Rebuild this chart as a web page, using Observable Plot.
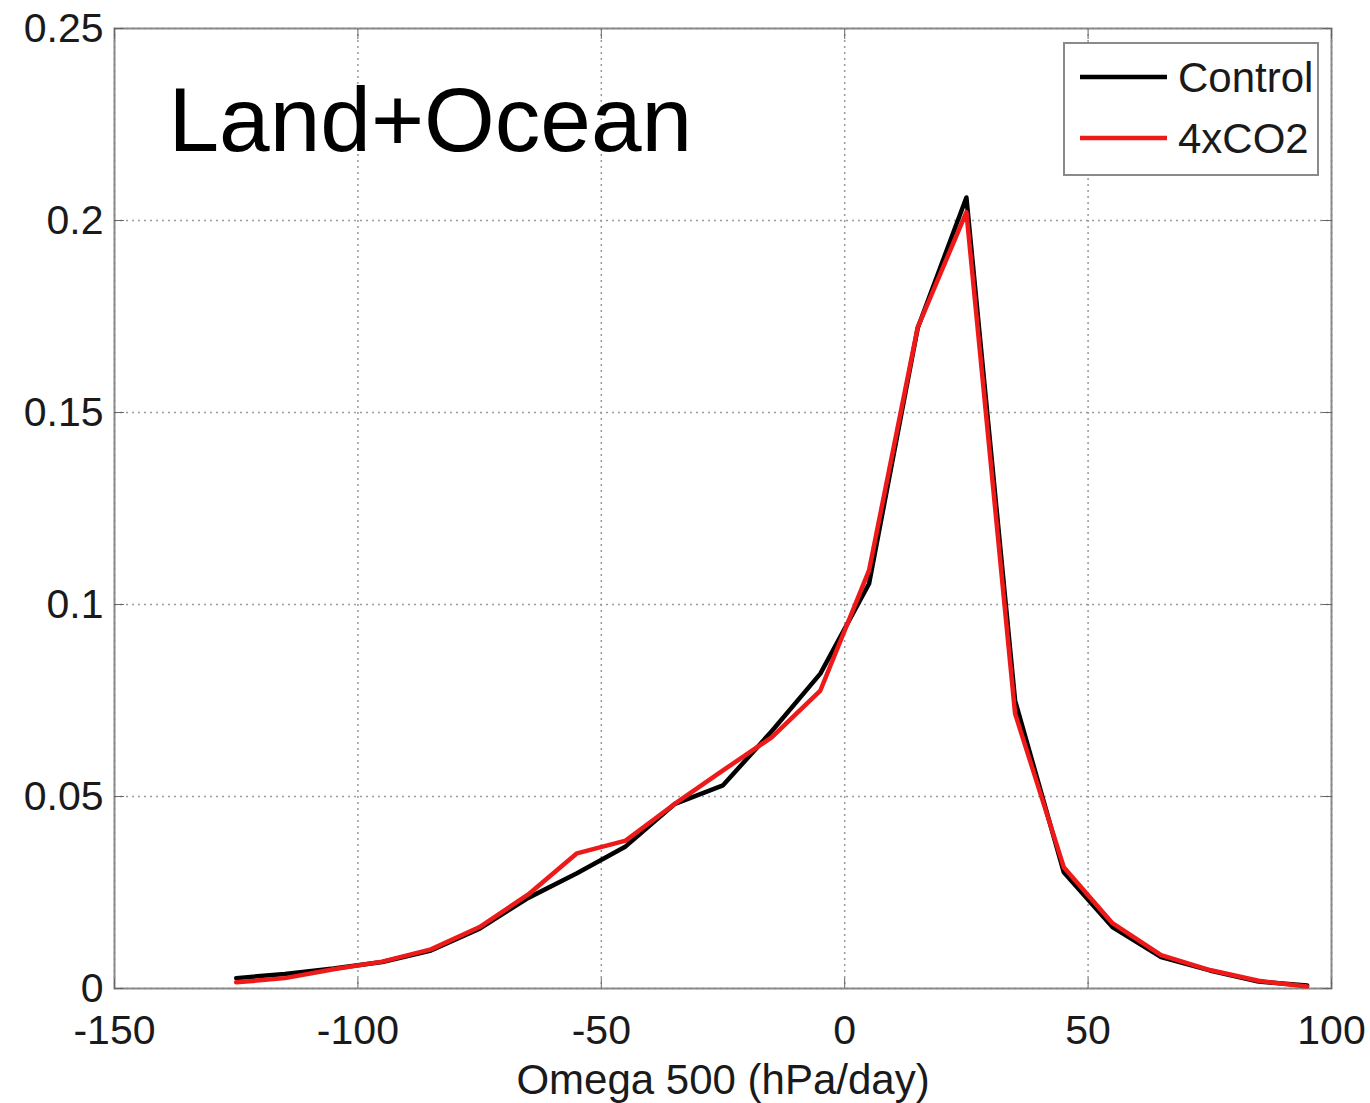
<!DOCTYPE html>
<html>
<head>
<meta charset="utf-8">
<script src="https://cdn.jsdelivr.net/npm/d3@7"></script>
<script src="https://cdn.jsdelivr.net/npm/@observablehq/plot@0.6"></script>
<style>
  html, body { margin: 0; padding: 0; background: #fff; }
  #wrap { position: relative; width: 1370px; height: 1103px; }
  #legend { position: absolute; left: 1063px; top: 42px; }
</style>
</head>
<body>
<div id="wrap">
  <div id="chart"></div>
  <div id="legend"></div>
</div>
<script>
// Omega 500 bin centres (hPa/day) and the PDF of each run
const omega = [-125, -115, -105, -95, -85, -75, -65, -55, -45, -35, -25, -15, -5, 5, 15, 25, 35, 45, 55, 65, 75, 85, 95];
const control = [0.0027, 0.0038, 0.0052, 0.0069, 0.0099, 0.0156, 0.0236, 0.0300, 0.0370, 0.0480, 0.0529, 0.0670, 0.0820, 0.1054, 0.1720, 0.2060, 0.0750, 0.0303, 0.0160, 0.0082, 0.0047, 0.0018, 0.0008];
const co2x4 = [0.0016, 0.0027, 0.0050, 0.0070, 0.0102, 0.0160, 0.0245, 0.0352, 0.0385, 0.0480, 0.0568, 0.0654, 0.0776, 0.1089, 0.1722, 0.2022, 0.0716, 0.0316, 0.0170, 0.0087, 0.0048, 0.0020, 0.0005];

const seriesNames = ["Control", "4xCO2"];
const seriesColors = ["#000000", "#ee1a1a"];

const xTicks = [-150, -100, -50, 0, 50, 100];
const yTicks = [0, 0.05, 0.1, 0.15, 0.2, 0.25];

const panelTitle = "Land+Ocean";
const xLabel = "Omega 500 (hPa/day)";

const rows = [
  ...omega.map((w, i) => ({omega: w, pdf: control[i], run: seriesNames[0]})),
  ...omega.map((w, i) => ({omega: w, pdf: co2x4[i], run: seriesNames[1]}))
];

const fmt = d => String(d);
const gridStyle = {stroke: "#9a9a9a", strokeOpacity: 1, strokeWidth: 1.5, strokeDasharray: "2,4"};

const chart = Plot.plot({
  width: 1370,
  height: 1103,
  marginLeft: 114,
  marginRight: 39,
  marginTop: 28,
  marginBottom: 115,
  style: {fontFamily: "'Liberation Sans', Arial, sans-serif", fontSize: "41px", color: "#1a1a1a", background: "#fff"},
  x: {domain: [-150, 100]},
  y: {domain: [0, 0.25]},
  color: {domain: seriesNames, range: seriesColors},
  marks: [
    Plot.gridX(xTicks, gridStyle),
    Plot.gridY(yTicks, gridStyle),
    Plot.frame({stroke: "#8a8a8a", strokeWidth: 2}),
    Plot.axisX(xTicks, {anchor: "bottom", tickSize: -10, tickPadding: 36, tickFormat: fmt, label: null, stroke: "#666"}),
    Plot.axisX(xTicks, {anchor: "top", tickSize: -10, tickFormat: () => "", label: null, stroke: "#666"}),
    Plot.axisY(yTicks, {anchor: "left", tickSize: -10, tickPadding: 21, tickFormat: fmt, label: null, stroke: "#666"}),
    Plot.axisY(yTicks, {anchor: "right", tickSize: -10, tickFormat: () => "", label: null, stroke: "#666"}),
    Plot.line(rows, {x: "omega", y: "pdf", z: "run", stroke: "run", strokeWidth: 4.5, strokeLinejoin: "round", strokeLinecap: "round"}),
    Plot.text([panelTitle], {frameAnchor: "top-left", dx: 54, dy: 58, text: d => d, fontSize: 91, textAnchor: "start", lineAnchor: "top", fill: "#000"}),
    Plot.text([xLabel], {frameAnchor: "bottom", dy: 92, text: d => d, fontSize: 42, lineAnchor: "middle", fill: "#1a1a1a"})
  ]
});
document.getElementById("chart").append(chart);

// Legend box in the upper right corner of the axes
const lw = 256, lh = 134;
const legend = d3.create("svg").attr("width", lw).attr("height", lh)
  .style("font-family", "'Liberation Sans', Arial, sans-serif");
legend.append("rect").attr("x", 1).attr("y", 1).attr("width", lw - 2).attr("height", lh - 2)
  .attr("fill", "#fff").attr("stroke", "#8a8a8a").attr("stroke-width", 2);
const rowsY = [35, 96];
seriesNames.forEach((name, i) => {
  legend.append("line").attr("x1", 17).attr("x2", 104).attr("y1", rowsY[i]).attr("y2", rowsY[i])
    .attr("stroke", seriesColors[i]).attr("stroke-width", 4.5);
  legend.append("text").attr("x", 115).attr("y", rowsY[i]).attr("dy", "0.35em")
    .attr("font-size", 42).attr("fill", "#1a1a1a").text(name);
});
document.getElementById("legend").append(legend.node());
</script>
</body>
</html>
